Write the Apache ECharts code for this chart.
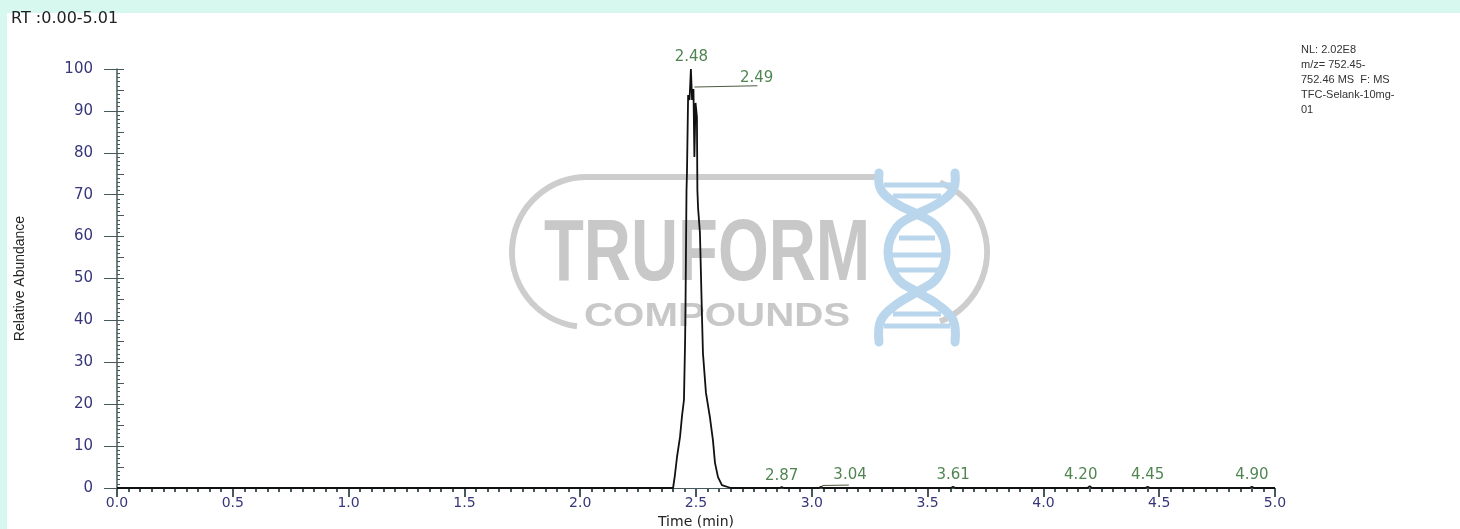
<!DOCTYPE html>
<html>
<head>
<meta charset="utf-8">
<title>RT :0.00-5.01</title>
<script src="https://cdn.jsdelivr.net/npm/echarts@6/dist/echarts.min.js"></script>
<style>
html, body { margin: 0; padding: 0; background: #d6f8ee; }
#main { width: 1460px; height: 529px; }
</style>
</head>
<body>
<div id="main"></div>
<script>
// chromatogram trace, time (min) / relative abundance (%)
var rt = [0, 2.401, 2.409, 2.418, 2.431, 2.440, 2.448, 2.453, 2.455, 2.459, 2.461, 2.466, 2.472, 2.478,
	2.483, 2.489, 2.493, 2.498, 2.504, 2.506, 2.509, 2.517, 2.526, 2.530, 2.543, 2.560, 2.573, 2.582,
	2.595, 2.612, 2.650, 2.86, 2.87, 2.88, 3.03, 3.04, 3.05, 3.60, 3.61, 3.62, 4.19, 4.20, 4.21,
	4.44, 4.45, 4.46, 4.89, 4.90, 4.91, 5.0];
var abundance = [0, 0, 3.1, 7.4, 12.2, 17.4, 21.0, 35.3, 45.3, 71.1, 75.2, 93.8, 92.6, 100,
	92.6, 95.2, 79.0, 91.9, 88.5, 71.1, 66.8, 60.9, 40.6, 32.2, 22.7, 16.9, 11.5, 6.0,
	2.6, 0.7, 0, 0, 0.2, 0, 0, 0.3, 0, 0, 0.3, 0, 0, 0.4, 0,
	0, 0.3, 0, 0, 0.3, 0, 0];

// labelled peaks
var peakRT = [2.48, 2.49, 2.87, 3.04, 3.61, 4.20, 4.45, 4.90];
var peakHeight = [100, 95.2, 0.2, 0.3, 0.3, 0.4, 0.3, 0.3];

// leader lines of the shifted labels
var leader249 = [[2.493, 95.7], [2.765, 96]];
var leader304 = [[3.045, 0.6], [3.16, 0.7]];

var xMin = 0, xMax = 5, xStep = 0.5;
var yMin = 0, yMax = 100, yStep = 10;

var infoLines = ['NL: 2.02E8', 'm/z= 752.45-', '752.46 MS  F: MS', 'TFC-Selank-10mg-', '01'];

var axisColor = '#47595c';
var labelColor = '#363679';
var peakColor = '#246626';

// label shifts (px) for the peaks whose label is moved aside
var labelShift = { 1: [63, 0], 3: [29, 0], 5: [-9, 0] };

var trace = rt.map(function (t, i) { return [t, abundance[i]]; });
var peaks = peakRT.map(function (t, i) {
	var item = { value: [t, peakHeight[i]] };
	if (labelShift[i]) item.label = { offset: labelShift[i] };
	return item;
});

/* watermark */
var strandA = [[879, 173], [881, 190], [897, 204], [917, 214], [937, 227], [946, 252], [937, 278], [917, 292], [897, 304], [881, 320], [879, 342]];
var strandB = strandA.map(function (p) { return [1834 - p[0], p[1]]; });
var dnaColor = '#bad6ec';
var pillColor = '#cdcdcd';
var rungs = [[185, 884, 951], [196, 893, 941], [238, 899, 935], [255, 891, 943], [270, 896, 938], [314, 893, 941], [326, 884, 950]];
var watermark = [
	{ type: 'rect', z: -100, silent: true, shape: { x: 7, y: 13, width: 1453, height: 516 }, style: { fill: '#ffffff' } },
	{ type: 'line', z: -60, silent: true, shape: { x1: 587, y1: 177, x2: 876, y2: 177 },
		style: { stroke: pillColor, lineWidth: 6 } },
	{ type: 'arc', z: -60, silent: true, shape: { cx: 587, cy: 252, r: 75, startAngle: 1.7045, endAngle: Math.PI * 1.5, clockwise: true },
		style: { fill: null, stroke: pillColor, lineWidth: 6 } },
	{ type: 'arc', z: -60, silent: true, shape: { cx: 912, cy: 252, r: 75, startAngle: -1.1883, endAngle: 1.1883, clockwise: true },
		style: { fill: null, stroke: pillColor, lineWidth: 6 } },
	{ type: 'text', z: -55, silent: true, x: 544, y: 213, scaleX: 0.75,
		style: { text: 'TRUFORM', font: 'bold 87px "Liberation Sans", Arial, sans-serif', fill: '#c8c8c8', align: 'left', verticalAlign: 'top' } },
	{ type: 'text', z: -55, silent: true, x: 584, y: 300, scaleX: 1.22,
		style: { text: 'COMPOUNDS', font: 'bold 33px "Liberation Sans", Arial, sans-serif', fill: '#c8c8c8', align: 'left', verticalAlign: 'top' } },
	{ type: 'polyline', z: -50, silent: true, shape: { points: strandA, smooth: 0.4 },
		style: { stroke: dnaColor, lineWidth: 9, lineCap: 'round', fill: null } },
	{ type: 'polyline', z: -50, silent: true, shape: { points: strandB, smooth: 0.4 },
		style: { stroke: dnaColor, lineWidth: 9, lineCap: 'round', fill: null } }
];
rungs.forEach(function (r) {
	watermark.push({ type: 'line', z: -50, silent: true, shape: { x1: r[1], y1: r[0], x2: r[2], y2: r[0] },
		style: { stroke: dnaColor, lineWidth: 5 } });
});

var myChart = echarts.init(document.getElementById('main'));
var option = {
	backgroundColor: '#d6f8ee',
	animation: false,
	title: [
		{
			text: 'RT :0.00-5.01', left: 11, top: 11, padding: 0,
			textStyle: { fontFamily: 'DejaVu Sans', fontSize: 16, fontWeight: 'normal', color: '#222' }
		},
		{
			text: infoLines.join('\n'), left: 1301, top: 42, padding: 0,
			textStyle: { fontFamily: 'Liberation Sans', fontSize: 11, lineHeight: 15, fontWeight: 'normal', color: '#333' }
		}
	],
	graphic: watermark,
	grid: { left: 117, right: 185, top: 69, bottom: 41, containLabel: false, outerBoundsMode: 'none' },
	xAxis: {
		type: 'value', min: xMin, max: xMax, interval: xStep,
		name: 'Time (min)', nameLocation: 'middle', nameGap: 25,
		nameTextStyle: { fontFamily: 'DejaVu Sans', fontSize: 14, color: '#222' },
		axisLine: { lineStyle: { color: axisColor, width: 1 } },
		axisTick: { length: 9, lineStyle: { color: axisColor, width: 2 } },
		minorTick: { show: true, splitNumber: 10, length: 4, lineStyle: { color: axisColor, width: 2 } },
		splitLine: { show: false },
		axisLabel: { margin: 8, fontFamily: 'DejaVu Sans', fontSize: 14, color: labelColor,
			formatter: function (v) { return v.toFixed(1); } }
	},
	yAxis: [
		{
			type: 'value', min: yMin, max: yMax, interval: yStep, position: 'left',
			name: 'Relative Abundance', nameLocation: 'middle', nameGap: 90,
			nameTextStyle: { fontFamily: 'Liberation Sans', fontSize: 14, color: '#222' },
			axisLine: { show: true, lineStyle: { color: axisColor, width: 1.5 } },
			axisTick: { show: true, length: 13, lineStyle: { color: axisColor } },
			splitLine: { show: false },
			axisLabel: { margin: 24, fontFamily: 'DejaVu Sans', fontSize: 15, color: labelColor }
		},
		{
			// inner ticks every 5 / every 1
			type: 'value', min: yMin, max: yMax, interval: 5, position: 'left',
			axisLine: { show: false },
			axisTick: { show: true, inside: true, length: 7, lineStyle: { color: axisColor } },
			minorTick: { show: true, splitNumber: 5, length: 3, lineStyle: { color: axisColor } },
			splitLine: { show: false },
			axisLabel: { show: false }
		}
	],
	series: [
		{
			name: 'trace', type: 'line', data: trace, showSymbol: false, z: 3,
			lineStyle: { color: '#111', width: 1.8 }
		},
		{
			name: 'leader249', type: 'line', data: leader249, showSymbol: false, z: 3,
			lineStyle: { color: '#4d5b3f', width: 1 }
		},
		{
			name: 'leader304', type: 'line', data: leader304, showSymbol: false, z: 3,
			lineStyle: { color: '#4d5b3f', width: 1 }
		},
		{
			name: 'peaks', type: 'scatter', data: peaks, symbolSize: 0, z: 4,
			label: {
				show: true, position: 'top', distance: 4,
				fontFamily: 'DejaVu Sans', fontSize: 15, color: peakColor,
				formatter: function (p) { return p.value[0].toFixed(2); }
			}
		}
	]
};
myChart.setOption(option);
</script>
</body>
</html>
